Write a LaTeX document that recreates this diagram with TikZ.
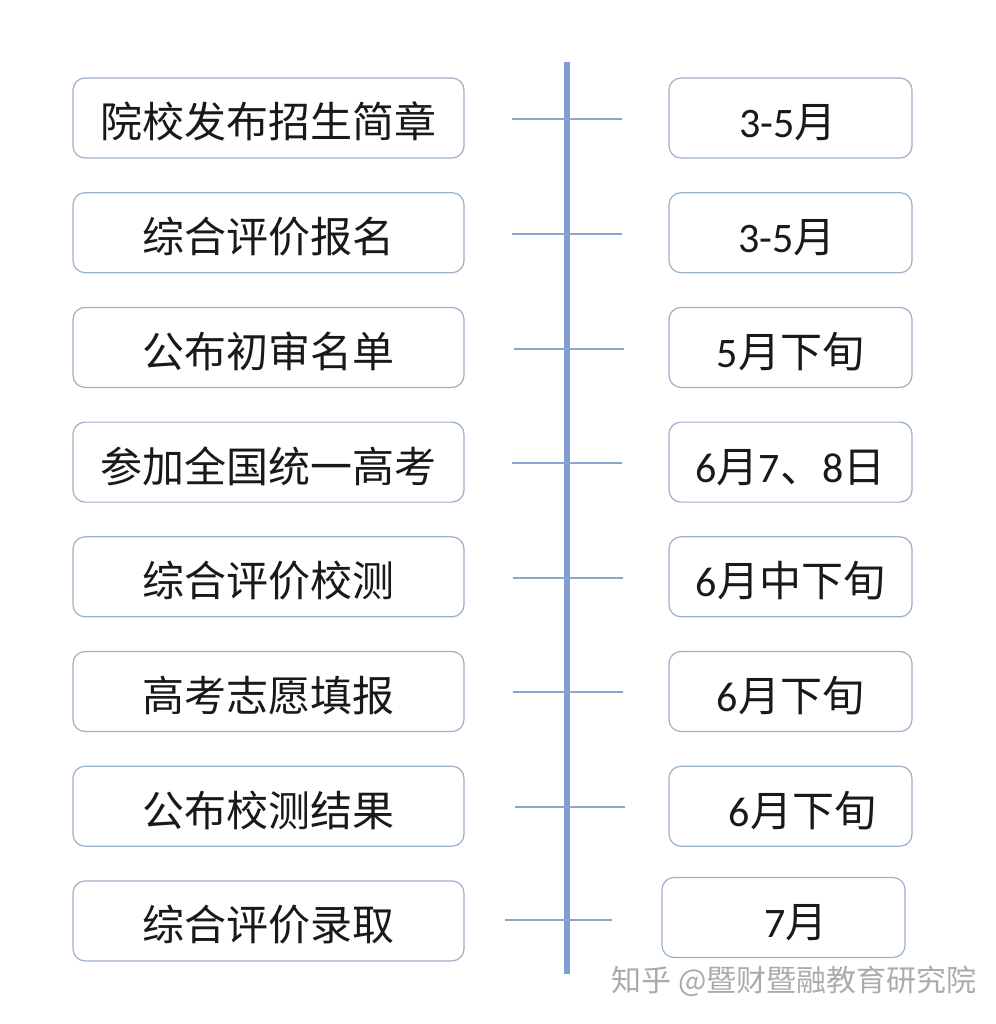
\documentclass[tikz,border=0pt]{standalone}
\usepackage{fontspec}
\setmainfont{Carlito}
\newfontfamily\cjk{Noto Sans CJK SC}
\definecolor{boxline}{HTML}{9DB0C9}
\definecolor{axis}{HTML}{7F9FD3}
\definecolor{tick}{HTML}{8AA6CC}
\definecolor{wm}{HTML}{ABABAB}
\begin{document}
\begin{tikzpicture}[x=1pt,y=-1pt,
  stagebox/.style={draw=boxline, line width=1.2pt, rounded corners=12pt, fill=white,
    minimum width=391pt, minimum height=80pt, inner sep=0pt, text height=40pt, text depth=0pt,
    font=\cjk\fontsize{42}{42}\selectfont, text=black!90},
  datebox/.style={draw=boxline, line width=1.2pt, rounded corners=12pt, fill=white,
    minimum width=243pt, minimum height=80pt, inner sep=0pt, text height=40pt, text depth=0pt,
    font=\fontsize{42}{42}\selectfont, text=black!90},
  tickline/.style={draw=tick, line width=1.6pt},
  axisline/.style={draw=axis, line width=5.5pt}]
\useasboundingbox (0,0) rectangle (995,1024);
% central axis
\coordinate (axT) at (567,62);
\coordinate (axB) at (567,974);
\draw[axisline] (axT) -- (axB);
% tick lines
\foreach \i/\y/\xa/\xb in {1/119/512/622, 2/234/512/622, 3/349/514/624, 4/463/512/622,
  5/578/513/623, 6/692/513/623, 7/807/515/625, 8/920/505/612}{
  \coordinate (ta\i) at (\xa,\y);
  \coordinate (tb\i) at (\xb,\y);
  \draw[tickline] (ta\i) -- (tb\i);
}
% left boxes
\node[stagebox] (s1) at (268.5,118) {院校发布招生简章};
\node[stagebox] (s2) at (268.5,232.7) {综合评价报名};
\node[stagebox] (s3) at (268.5,347.4) {公布初审名单};
\node[stagebox] (s4) at (268.5,462.1) {参加全国统一高考};
\node[stagebox] (s5) at (268.5,576.8) {综合评价校测};
\node[stagebox] (s6) at (268.5,691.5) {高考志愿填报};
\node[stagebox] (s7) at (268.5,806.2) {公布校测结果};
\node[stagebox] (s8) at (268.5,920.9) {综合评价录取};
% right boxes
\node[datebox] (d1) at (790.5,118) {\hspace{-5pt}3-5{\cjk 月}};
\node[datebox] (d2) at (790.5,232.7) {\hspace{-7pt}3-5{\cjk 月}};
\node[datebox] (d3) at (790.5,347.4) {5{\cjk 月下旬}};
\node[datebox] (d4) at (790.5,462.1) {6{\cjk 月}7{\cjk 、}8{\cjk 日}};
\node[datebox] (d5) at (790.5,576.8) {6{\cjk 月中下旬}};
\node[datebox] (d6) at (790.5,691.5) {6{\cjk 月下旬}};
\node[datebox] (d7) at (790.5,806.2) {\hspace{24pt}6{\cjk 月下旬}};
\node[datebox] (d8) at (783.5,917.5) {\hspace{25pt}7{\cjk 月}};
% watermark
\node[font=\cjk\fontsize{30}{30}\selectfont, text=wm, anchor=east, inner sep=0pt] (wm) at (977,981) {知乎 @暨财暨融教育研究院};
\end{tikzpicture}
\end{document}
